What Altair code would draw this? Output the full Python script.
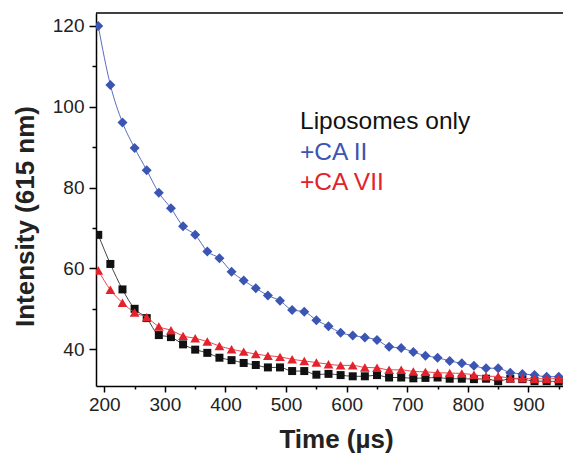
import altair as alt
import pandas as pd

time_us = [190, 210, 230, 250, 270, 290, 310, 330, 350, 370,
           390, 410, 430, 450, 470, 490, 510, 530, 550, 570,
           590, 610, 630, 650, 670, 690, 710, 730, 750, 770,
           790, 810, 830, 850, 870, 890, 910, 930, 950, 970]

ca2 = [120.0, 105.4, 96.1, 89.8, 84.3, 78.7, 74.9, 70.4, 68.3, 64.2,
       62.5, 59.2, 57.0, 55.1, 53.3, 52.0, 49.7, 49.3, 47.2, 45.7,
       44.1, 43.4, 42.9, 42.3, 40.6, 40.3, 39.3, 38.4, 37.9, 37.1,
       36.5, 35.9, 35.3, 35.3, 34.2, 33.9, 33.6, 33.2, 33.2, 32.6]

lipo = [68.3, 61.1, 54.8, 50.0, 47.7, 43.5, 43.0, 41.2, 39.9, 39.1,
        37.9, 37.3, 36.6, 36.1, 35.5, 35.5, 34.6, 34.6, 33.7, 33.9,
        33.6, 33.3, 33.3, 33.6, 33.0, 33.0, 32.8, 32.9, 33.0, 32.7,
        32.7, 32.6, 32.7, 32.1, 32.7, 32.6, 32.1, 32.1, 32.0, 32.0]

ca7 = [59.5, 54.7, 51.5, 49.1, 47.9, 45.6, 44.7, 43.3, 42.7, 41.9,
       40.8, 40.0, 39.4, 38.8, 38.4, 38.1, 37.5, 37.1, 36.7, 36.3,
       36.0, 36.0, 35.5, 35.4, 34.9, 34.9, 34.5, 34.4, 34.2, 34.1,
       34.0, 33.7, 33.3, 33.3, 32.8, 32.8, 32.7, 32.7, 32.7, 32.6]

series_names = ["Liposomes only", "+CA II", "+CA VII"]
series_colors = ["#111111", "#3b55b3", "#e3222b"]
line_colors = ["#444444", "#5a6cc0", "#e84850"]
series_shapes = ["square", "diamond", "triangle-up"]
series_sizes = [64, 100, 95]
series_values = [lipo, ca2, ca7]

x_ticks = [200, 250, 300, 350, 400, 450, 500, 550, 600, 650, 700, 750, 800, 850, 900, 950]
y_ticks = [40, 50, 60, 70, 80, 90, 100, 110, 120]

FONT = "Liberation Sans"
W, H = 467, 373

x_scale = alt.Scale(domain=[186.3, 957], nice=False, zero=False)
y_scale = alt.Scale(domain=[30.9, 123.2], nice=False, zero=False)

x_axis = alt.Axis(
    values=x_ticks,
    labelExpr="datum.value % 100 === 0 ? datum.label : ''",
    tickSize={"condition": {"test": "datum.value % 100 === 0", "value": 6}, "value": 3},
    title="Time (µs)",
    titleX=240, titleY=61, titleAnchor="start", titleAlign="center",
    titleBaseline="alphabetic",
    labelOverlap=False, grid=False, labelPadding=3,
)
y_axis = alt.Axis(
    values=y_ticks,
    labelExpr="datum.value % 20 === 0 ? datum.label : ''",
    tickSize={"condition": {"test": "datum.value % 20 === 0", "value": 7}, "value": 4},
    title="Intensity (615 nm)",
    titleX=-63, titleY=203, titleAlign="center", titleAngle=270,
    titleBaseline="alphabetic",
    labelOverlap=False, grid=False, labelPadding=5,
)

layers = []
for i, (name, vals) in enumerate(zip(series_names, series_values)):
    df = pd.DataFrame({"t": time_us, "v": vals})
    base = alt.Chart(df)
    line = base.mark_line(color=line_colors[i], strokeWidth=1, interpolate="monotone", clip=True).encode(
        x=alt.X("t:Q", scale=x_scale, axis=x_axis),
        y=alt.Y("v:Q", scale=y_scale, axis=y_axis),
    )
    pts = base.mark_point(shape=series_shapes[i], size=series_sizes[i], filled=True,
                          color=series_colors[i], opacity=1, clip=True).encode(
        x=alt.X("t:Q", scale=x_scale, axis=x_axis),
        y=alt.Y("v:Q", scale=y_scale, axis=y_axis),
    )
    layers += [line, pts]

# top frame line
frame = alt.Chart(pd.DataFrame({"a": [0]})).mark_rule(color="black", strokeWidth=1.5).encode(
    x=alt.value(0), x2=alt.value(W), y=alt.value(0)
)
layers.append(frame)

# annotation legend
legend_y = [116, 147, 177]
for name, col, yy in zip(series_names, series_colors, legend_y):
    t = alt.Chart(pd.DataFrame({"label": [name]})).mark_text(
        align="left", baseline="alphabetic", fontSize=24.5, font=FONT, color=col
    ).encode(text="label:N", x=alt.value(204), y=alt.value(yy))
    layers.append(t)

chart = alt.layer(*layers).properties(
    width=W, height=H,
    autosize=alt.AutoSizeParams(type="none"),
    padding={"left": 88, "top": 5, "right": 0, "bottom": 69},
).configure_view(stroke=None).configure_axis(
    domainColor="black", domainWidth=1.5, tickColor="black", tickWidth=1.5,
    labelFont=FONT, labelFontSize=19, labelColor="#222222",
    titleFont=FONT, titleFontSize=26, titleFontWeight="bold", titleColor="#222222",
)

chart.save("out.html", embed_options={"renderer": "svg", "actions": False})
